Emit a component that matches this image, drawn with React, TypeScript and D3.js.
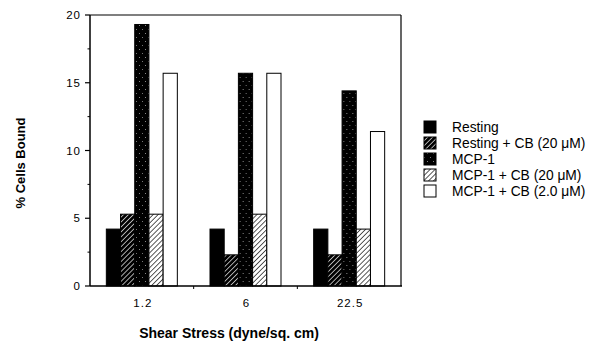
import React from "react";
import * as d3 from "d3";

const groups = ["1.2", "6", "22.5"];
const seriesNames = [
  "Resting",
  "Resting + CB (20 μM)",
  "MCP-1",
  "MCP-1 + CB (20 μM)",
  "MCP-1 + CB (2.0 μM)",
];
const resting = [4.2, 4.2, 4.2];
const restingCB = [5.3, 2.3, 2.3];
const mcp1 = [19.3, 15.7, 14.4];
const mcp1CB20 = [5.3, 5.3, 4.2];
const mcp1CB2 = [15.7, 15.7, 11.4];
const yTicks = [0, 5, 10, 15, 20];

const seriesValues = [resting, restingCB, mcp1, mcp1CB20, mcp1CB2];
const fills = [
  "#000",
  "url(#hatchDark)",
  "url(#speckle)",
  "url(#hatchLight)",
  "#fff",
];

const font = "'Liberation Sans', Arial, Helvetica, sans-serif";

const App = () => {
  const width = 591;
  const height = 343;
  const left = 90;
  const right = 401;
  const top = 15;
  const bottom = 286;

  const x = d3.scaleBand().domain(groups).range([left, right]).padding(0);
  const barW = 14.2;
  const inner = d3
    .scaleBand()
    .domain(seriesNames)
    .range([(x.bandwidth() - barW * 5) / 2, (x.bandwidth() + barW * 5) / 2])
    .padding(0);
  const y = d3.scaleLinear().domain([0, 20]).range([bottom, top]);
  const minor = d3.range(2.5, 20, 5);

  return (
    <svg
      width={width}
      height={height}
      style={{ position: "absolute", left: 0, top: 0, background: "#fff" }}
      fontFamily={font}
    >
      <defs>
        <pattern id="hatchDark" width="3.5" height="3.5" patternUnits="userSpaceOnUse" patternTransform="rotate(45)">
          <rect width="3.5" height="3.5" fill="#000" />
          <line x1="0" y1="0" x2="0" y2="3.5" stroke="#fff" strokeWidth="1.3" />
        </pattern>
        <pattern id="hatchLight" width="3.5" height="3.5" patternUnits="userSpaceOnUse" patternTransform="rotate(45)">
          <rect width="3.5" height="3.5" fill="#fff" />
          <line x1="0" y1="0" x2="0" y2="3.5" stroke="#000" strokeWidth="1.3" />
        </pattern>
        <pattern id="speckle" width="6" height="8" patternUnits="userSpaceOnUse">
          <rect width="6" height="8" fill="#000" />
          <rect x="1" y="1" width="1" height="1" fill="#888" />
          <rect x="4" y="5" width="1" height="1" fill="#777" />
        </pattern>
      </defs>

      {/* frame */}
      <line x1={left} x2={right} y1={top} y2={top} stroke="#000" strokeWidth={1.2} />
      <line x1={right} x2={right} y1={top} y2={bottom} stroke="#000" strokeWidth={1.2} />

      {/* bars */}
      {groups.map((g, gi) => (
        <g key={g} transform={`translate(${x(g)},0)`}>
          {seriesNames.map((s, si) => {
            const v = seriesValues[si][gi];
            return (
              <rect
                key={s}
                x={inner(s)}
                y={y(v)}
                width={inner.bandwidth()}
                height={y(0) - y(v)}
                fill={fills[si]}
                stroke="#000"
                strokeWidth={1}
              />
            );
          })}
        </g>
      ))}

      {/* y axis */}
      <line x1={left} x2={left} y1={top} y2={bottom} stroke="#000" strokeWidth={1.5} />
      {yTicks.map((t) => (
        <g key={t} transform={`translate(0,${y(t)})`}>
          <line x1={left - 5} x2={left} stroke="#000" strokeWidth={1.2} />
          <text x={left - 9} dy="0.35em" textAnchor="end" fontSize={11.5} letterSpacing={1}>
            {t}
          </text>
        </g>
      ))}
      {minor.map((t) => (
        <line key={t} x1={left - 2.5} x2={left} y1={y(t)} y2={y(t)} stroke="#000" />
      ))}

      {/* x axis */}
      <line x1={left} x2={right + 1} y1={bottom} y2={bottom} stroke="#000" strokeWidth={1.5} />
      {groups.slice(1).map((g) => (
        <line key={g} x1={x(g)} x2={x(g)} y1={bottom} y2={bottom + 3} stroke="#000" />
      ))}
      {groups.map((g) => (
        <text
          key={g}
          x={(x(g) as number) + x.bandwidth() / 2 + 1}
          y={bottom + 21}
          textAnchor="middle"
          fontSize={11.5}
          letterSpacing={1}
        >
          {g}
        </text>
      ))}

      {/* axis titles */}
      <text x={229} y={338} textAnchor="middle" fontSize={14} fontWeight="bold">
        Shear Stress (dyne/sq. cm)
      </text>
      <text
        transform="translate(25,163) rotate(-90)"
        textAnchor="middle"
        fontSize={13}
        fontWeight="bold"
      >
        % Cells Bound
      </text>

      {/* legend */}
      {seriesNames.map((s, i) => {
        const cy = 127 + i * 16;
        return (
          <g key={s}>
            <rect x={424} y={cy - 6} width={12} height={12} fill={fills[i]} stroke="#000" />
            <text x={452} y={cy + 5} fontSize={13.8}>
              {s}
            </text>
          </g>
        );
      })}
    </svg>
  );
};

export default App;
